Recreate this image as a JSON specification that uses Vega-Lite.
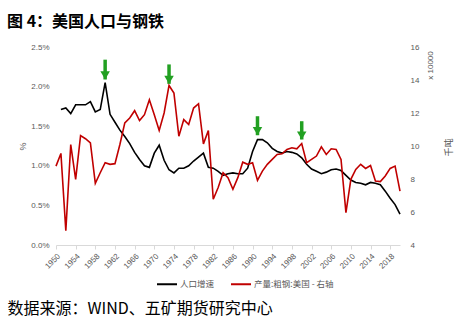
{
  "$schema": "https://vega.github.io/schema/vega-lite/v6.json",
  "width": 344,
  "height": 198,
  "autosize": {"type": "none"},
  "padding": {"left": 56, "top": 47, "right": 66, "bottom": 86},
  "background": "white",
  "config": {
    "view": {"stroke": null},
    "font": "Liberation Sans",
    "axisLeft": {
      "values": [0, 0.5, 1, 1.5, 2, 2.5],
      "labelExpr": "format(datum.value, '.1f') + '%'",
      "labelOverlap": false,
      "labelFontSize": 8,
      "labelColor": "#595959",
      "labelPadding": 7,
      "domain": false,
      "ticks": false,
      "grid": false,
      "titleFontSize": 9,
      "titleFontWeight": "normal",
      "titleColor": "#595959",
      "titleX": -34,
      "titleY": 99,
      "titleAngle": -90,
      "titleAlign": "center",
      "titleBaseline": "middle"
    }
  },
  "title": {
    "text": "图 4：美国人口与钢铁",
    "anchor": "start",
    "frame": "group",
    "dx": -49,
    "offset": 13,
    "font": "Noto Sans CJK SC",
    "fontSize": 16,
    "fontWeight": "bold",
    "color": "#000000"
  },
  "datasets": {
    "pop": [
      {"year": 1951, "series": "人口增速", "value": 1.71},
      {"year": 1952, "series": "人口增速", "value": 1.73},
      {"year": 1953, "series": "人口增速", "value": 1.66},
      {"year": 1954, "series": "人口增速", "value": 1.77},
      {"year": 1955, "series": "人口增速", "value": 1.77},
      {"year": 1956, "series": "人口增速", "value": 1.77},
      {"year": 1957, "series": "人口增速", "value": 1.81},
      {"year": 1958, "series": "人口增速", "value": 1.68},
      {"year": 1959, "series": "人口增速", "value": 1.71},
      {"year": 1960, "series": "人口增速", "value": 2.05},
      {"year": 1961, "series": "人口增速", "value": 1.65},
      {"year": 1962, "series": "人口增速", "value": 1.55},
      {"year": 1963, "series": "人口增速", "value": 1.45},
      {"year": 1964, "series": "人口增速", "value": 1.37},
      {"year": 1965, "series": "人口增速", "value": 1.28},
      {"year": 1966, "series": "人口增速", "value": 1.17},
      {"year": 1967, "series": "人口增速", "value": 1.08},
      {"year": 1968, "series": "人口增速", "value": 1.0},
      {"year": 1969, "series": "人口增速", "value": 0.98},
      {"year": 1970, "series": "人口增速", "value": 1.16},
      {"year": 1971, "series": "人口增速", "value": 1.26},
      {"year": 1972, "series": "人口增速", "value": 1.07},
      {"year": 1973, "series": "人口增速", "value": 0.95},
      {"year": 1974, "series": "人口增速", "value": 0.91},
      {"year": 1975, "series": "人口增速", "value": 0.97},
      {"year": 1976, "series": "人口增速", "value": 0.97},
      {"year": 1977, "series": "人口增速", "value": 1.0},
      {"year": 1978, "series": "人口增速", "value": 1.06},
      {"year": 1979, "series": "人口增速", "value": 1.11},
      {"year": 1980, "series": "人口增速", "value": 1.16},
      {"year": 1981, "series": "人口增速", "value": 0.98},
      {"year": 1982, "series": "人口增速", "value": 0.97},
      {"year": 1983, "series": "人口增速", "value": 0.93},
      {"year": 1984, "series": "人口增速", "value": 0.88},
      {"year": 1985, "series": "人口增速", "value": 0.9},
      {"year": 1986, "series": "人口增速", "value": 0.91},
      {"year": 1987, "series": "人口增速", "value": 0.9},
      {"year": 1988, "series": "人口增速", "value": 0.9},
      {"year": 1989, "series": "人口增速", "value": 0.97},
      {"year": 1990, "series": "人口增速", "value": 1.18},
      {"year": 1991, "series": "人口增速", "value": 1.33},
      {"year": 1992, "series": "人口增速", "value": 1.33},
      {"year": 1993, "series": "人口增速", "value": 1.29},
      {"year": 1994, "series": "人口增速", "value": 1.22},
      {"year": 1995, "series": "人口增速", "value": 1.18},
      {"year": 1996, "series": "人口增速", "value": 1.16},
      {"year": 1997, "series": "人口增速", "value": 1.18},
      {"year": 1998, "series": "人口增速", "value": 1.17},
      {"year": 1999, "series": "人口增速", "value": 1.15},
      {"year": 2000, "series": "人口增速", "value": 1.1},
      {"year": 2001, "series": "人口增速", "value": 1.02},
      {"year": 2002, "series": "人口增速", "value": 0.96},
      {"year": 2003, "series": "人口增速", "value": 0.93},
      {"year": 2004, "series": "人口增速", "value": 0.9},
      {"year": 2005, "series": "人口增速", "value": 0.92},
      {"year": 2006, "series": "人口增速", "value": 0.95},
      {"year": 2007, "series": "人口增速", "value": 0.96},
      {"year": 2008, "series": "人口增速", "value": 0.94},
      {"year": 2009, "series": "人口增速", "value": 0.88},
      {"year": 2010, "series": "人口增速", "value": 0.82},
      {"year": 2011, "series": "人口增速", "value": 0.79},
      {"year": 2012, "series": "人口增速", "value": 0.78},
      {"year": 2013, "series": "人口增速", "value": 0.76},
      {"year": 2014, "series": "人口增速", "value": 0.79},
      {"year": 2015, "series": "人口增速", "value": 0.78},
      {"year": 2016, "series": "人口增速", "value": 0.76},
      {"year": 2017, "series": "人口增速", "value": 0.68},
      {"year": 2018, "series": "人口增速", "value": 0.59},
      {"year": 2019, "series": "人口增速", "value": 0.51},
      {"year": 2020, "series": "人口增速", "value": 0.39}
    ],
    "steel": [
      {"year": 1950, "series": "产量:粗钢:美国 - 右轴", "value": 8.78},
      {"year": 1951, "series": "产量:粗钢:美国 - 右轴", "value": 9.55},
      {"year": 1952, "series": "产量:粗钢:美国 - 右轴", "value": 4.86},
      {"year": 1953, "series": "产量:粗钢:美国 - 右轴", "value": 10.09},
      {"year": 1954, "series": "产量:粗钢:美国 - 右轴", "value": 7.98},
      {"year": 1955, "series": "产量:粗钢:美国 - 右轴", "value": 10.63},
      {"year": 1956, "series": "产量:粗钢:美国 - 右轴", "value": 10.44},
      {"year": 1957, "series": "产量:粗钢:美国 - 右轴", "value": 10.19},
      {"year": 1958, "series": "产量:粗钢:美国 - 右轴", "value": 7.74},
      {"year": 1959, "series": "产量:粗钢:美国 - 右轴", "value": 8.38},
      {"year": 1960, "series": "产量:粗钢:美国 - 右轴", "value": 8.99},
      {"year": 1961, "series": "产量:粗钢:美国 - 右轴", "value": 8.89},
      {"year": 1962, "series": "产量:粗钢:美国 - 右轴", "value": 8.93},
      {"year": 1963, "series": "产量:粗钢:美国 - 右轴", "value": 10.09},
      {"year": 1964, "series": "产量:粗钢:美国 - 右轴", "value": 11.4},
      {"year": 1965, "series": "产量:粗钢:美国 - 右轴", "value": 11.7},
      {"year": 1966, "series": "产量:粗钢:美国 - 右轴", "value": 12.14},
      {"year": 1967, "series": "产量:粗钢:美国 - 右轴", "value": 11.54},
      {"year": 1968, "series": "产量:粗钢:美国 - 右轴", "value": 11.9},
      {"year": 1969, "series": "产量:粗钢:美国 - 右轴", "value": 12.8},
      {"year": 1970, "series": "产量:粗钢:美国 - 右轴", "value": 11.9},
      {"year": 1971, "series": "产量:粗钢:美国 - 右轴", "value": 10.94},
      {"year": 1972, "series": "产量:粗钢:美国 - 右轴", "value": 12.0},
      {"year": 1973, "series": "产量:粗钢:美国 - 右轴", "value": 13.67},
      {"year": 1974, "series": "产量:粗钢:美国 - 右轴", "value": 13.21},
      {"year": 1975, "series": "产量:粗钢:美国 - 右轴", "value": 10.59},
      {"year": 1976, "series": "产量:粗钢:美国 - 右轴", "value": 11.6},
      {"year": 1977, "series": "产量:粗钢:美国 - 右轴", "value": 11.3},
      {"year": 1978, "series": "产量:粗钢:美国 - 右轴", "value": 12.3},
      {"year": 1979, "series": "产量:粗钢:美国 - 右轴", "value": 12.56},
      {"year": 1980, "series": "产量:粗钢:美国 - 右轴", "value": 10.13},
      {"year": 1981, "series": "产量:粗钢:美国 - 右轴", "value": 10.94},
      {"year": 1982, "series": "产量:粗钢:美国 - 右轴", "value": 6.77},
      {"year": 1983, "series": "产量:粗钢:美国 - 右轴", "value": 7.48},
      {"year": 1984, "series": "产量:粗钢:美国 - 右轴", "value": 8.38},
      {"year": 1985, "series": "产量:粗钢:美国 - 右轴", "value": 8.08},
      {"year": 1986, "series": "产量:粗钢:美国 - 右轴", "value": 7.38},
      {"year": 1987, "series": "产量:粗钢:美国 - 右轴", "value": 8.08},
      {"year": 1988, "series": "产量:粗钢:美国 - 右轴", "value": 9.02},
      {"year": 1989, "series": "产量:粗钢:美国 - 右轴", "value": 8.89},
      {"year": 1990, "series": "产量:粗钢:美国 - 右轴", "value": 8.99},
      {"year": 1991, "series": "产量:粗钢:美国 - 右轴", "value": 7.92},
      {"year": 1992, "series": "产量:粗钢:美国 - 右轴", "value": 8.48},
      {"year": 1993, "series": "产量:粗钢:美国 - 右轴", "value": 8.89},
      {"year": 1994, "series": "产量:粗钢:美国 - 右轴", "value": 9.19},
      {"year": 1995, "series": "产量:粗钢:美国 - 右轴", "value": 9.49},
      {"year": 1996, "series": "产量:粗钢:美国 - 右轴", "value": 9.53},
      {"year": 1997, "series": "产量:粗钢:美国 - 右轴", "value": 9.79},
      {"year": 1998, "series": "产量:粗钢:美国 - 右轴", "value": 9.89},
      {"year": 1999, "series": "产量:粗钢:美国 - 右轴", "value": 9.83},
      {"year": 2000, "series": "产量:粗钢:美国 - 右轴", "value": 10.15},
      {"year": 2001, "series": "产量:粗钢:美国 - 右轴", "value": 8.99},
      {"year": 2002, "series": "产量:粗钢:美国 - 右轴", "value": 9.19},
      {"year": 2003, "series": "产量:粗钢:美国 - 右轴", "value": 9.39},
      {"year": 2004, "series": "产量:粗钢:美国 - 右轴", "value": 9.95},
      {"year": 2005, "series": "产量:粗钢:美国 - 右轴", "value": 9.49},
      {"year": 2006, "series": "产量:粗钢:美国 - 右轴", "value": 9.83},
      {"year": 2007, "series": "产量:粗钢:美国 - 右轴", "value": 9.79},
      {"year": 2008, "series": "产量:粗钢:美国 - 右轴", "value": 9.19},
      {"year": 2009, "series": "产量:粗钢:美国 - 右轴", "value": 5.96},
      {"year": 2010, "series": "产量:粗钢:美国 - 右轴", "value": 7.98},
      {"year": 2011, "series": "产量:粗钢:美国 - 右轴", "value": 8.58},
      {"year": 2012, "series": "产量:粗钢:美国 - 右轴", "value": 8.89},
      {"year": 2013, "series": "产量:粗钢:美国 - 右轴", "value": 8.64},
      {"year": 2014, "series": "产量:粗钢:美国 - 右轴", "value": 8.82},
      {"year": 2015, "series": "产量:粗钢:美国 - 右轴", "value": 7.88},
      {"year": 2016, "series": "产量:粗钢:美国 - 右轴", "value": 7.84},
      {"year": 2017, "series": "产量:粗钢:美国 - 右轴", "value": 8.18},
      {"year": 2018, "series": "产量:粗钢:美国 - 右轴", "value": 8.64},
      {"year": 2019, "series": "产量:粗钢:美国 - 右轴", "value": 8.78},
      {"year": 2020, "series": "产量:粗钢:美国 - 右轴", "value": 7.27}
    ],
    "arrows": [
      {"year": 1960, "start": 2.34, "end": 2.09},
      {"year": 1973, "start": 2.28, "end": 2.035},
      {"year": 1991, "start": 1.626, "end": 1.386},
      {"year": 2000, "start": 1.563, "end": 1.332}
    ]
  },
  "encoding": {
    "x": {
      "field": "year",
      "type": "quantitative",
      "scale": {"domain": [1950, 2020], "nice": false, "zero": false},
      "axis": {
        "values": [1950, 1954, 1958, 1962, 1966, 1970, 1974, 1978, 1982, 1986, 1990, 1994, 1998, 2002, 2006, 2010, 2014, 2018],
        "format": "d",
        "labelAngle": -45,
        "labelFontSize": 8,
        "labelColor": "#595959",
        "labelPadding": 3,
        "domainColor": "#d9d9d9",
        "tickColor": "#d9d9d9",
        "tickSize": 4,
        "grid": false,
        "title": "数据来源：WIND、五矿期货研究中心",
        "titleFont": "Noto Sans CJK SC",
        "titleFontSize": 16,
        "titleFontWeight": "normal",
        "titleColor": "#000000",
        "titleX": -49,
        "titleY": 68,
        "titleAlign": "left",
        "titleAnchor": "start",
        "titleBaseline": "alphabetic"
      }
    }
  },
  "resolve": {"scale": {"y": "independent"}},
  "layer": [
    {
      "layer": [
        {
          "data": {"name": "pop"},
          "mark": {"type": "line", "strokeWidth": 1.6},
          "encoding": {
            "y": {
              "field": "value",
              "type": "quantitative",
              "title": "%",
              "scale": {"domain": [0, 2.5], "nice": false, "zero": false}
            },
            "color": {
              "field": "series",
              "type": "nominal",
              "scale": {"domain": ["人口增速", "产量:粗钢:美国 - 右轴"], "range": ["#000000", "#c00000"]},
              "legend": {
                "orient": "none",
                "legendX": 100,
                "legendY": 226,
                "direction": "horizontal",
                "title": null,
                "padding": 0,
                "symbolType": "stroke",
                "symbolSize": 400,
                "symbolStrokeWidth": 2,
                "labelFont": "Noto Sans CJK SC",
                "labelFontSize": 8.5,
                "labelColor": "#595959",
                "labelOffset": 2,
                "columnPadding": 12
              }
            }
          }
        },
        {
          "data": {"name": "arrows"},
          "mark": {"type": "rule", "color": "#22a022", "strokeWidth": 3.5, "strokeCap": "butt"},
          "encoding": {
            "y": {"field": "start", "type": "quantitative", "title": "%"},
            "y2": {"field": "end"}
          }
        },
        {
          "data": {"name": "arrows"},
          "mark": {"type": "point", "shape": "triangle-down", "filled": true, "color": "#22a022", "size": 90, "opacity": 1, "yOffset": -4},
          "encoding": {
            "y": {"field": "end", "type": "quantitative", "title": "%"}
          }
        }
      ]
    },
    {
      "data": {"name": "steel"},
      "mark": {"type": "line", "strokeWidth": 1.6},
      "encoding": {
        "y": {
          "field": "value",
          "type": "quantitative",
          "scale": {"domain": [4, 16], "nice": false, "zero": false},
          "axis": {
            "orient": "right",
            "values": [4, 6, 8, 10, 12, 14, 16],
            "labelFontSize": 8,
            "labelColor": "#595959",
            "labelPadding": 10,
            "domain": false,
            "ticks": false,
            "grid": false,
            "title": "千吨",
            "titleFont": "Noto Sans CJK SC",
            "titleFontSize": 9,
            "titleFontWeight": "normal",
            "titleColor": "#595959",
            "titleX": 48,
            "titleY": 100,
            "titleAngle": -90,
            "titleAlign": "center",
            "titleBaseline": "middle"
          }
        },
        "color": {"field": "series", "type": "nominal"}
      }
    },
    {
      "data": {"name": "steel"},
      "mark": {"type": "line", "opacity": 0},
      "encoding": {
        "y": {
          "field": "value",
          "type": "quantitative",
          "scale": {"domain": [4, 16], "nice": false, "zero": false},
          "axis": {
            "orient": "right",
            "labels": false,
            "domain": false,
            "ticks": false,
            "grid": false,
            "title": "x 10000",
            "titleFontSize": 8,
            "titleFontWeight": "normal",
            "titleColor": "#595959",
            "titleX": 30,
            "titleY": 18,
            "titleAngle": -90,
            "titleAlign": "center",
            "titleBaseline": "middle"
          }
        }
      }
    }
  ]
}
